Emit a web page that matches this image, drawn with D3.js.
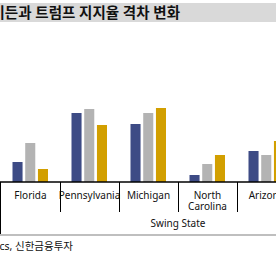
<!DOCTYPE html>
<html>
<head>
<meta charset="utf-8">
<script src="https://cdn.jsdelivr.net/npm/d3@7"></script>
<style>
  body { margin: 0; background: #fff; }
  svg { display: block; }
  text { font-family: "Noto Sans", "Noto Sans CJK KR", sans-serif; }
</style>
</head>
<body>
<svg id="chart"></svg>
<script>
const title = "바이든과 트럼프 지지율 격차 변화";
const source = "자료: RealClearPolitics, 신한금융투자";
const groupLabel = "Swing State";

const states = ["Florida", "Pennsylvania", "Michigan", "North Carolina", "Arizona"];
const seriesNames = ["series1", "series2", "series3"];
const series1 = [2.0, 6.9, 5.8, 0.7, 3.1];
const series2 = [3.9, 7.3, 6.9, 1.8, 2.7];
const series3 = [1.3, 5.7, 7.4, 2.7, 4.1];
const colors = ["#3d4b85", "#b3b3b3", "#d29f00"];

const width = 276, height = 260;
const baseY = 182;

const svg = d3.select("#chart")
  .attr("width", width)
  .attr("height", height);

// title bar
svg.append("rect")
  .attr("x", 0).attr("y", 3)
  .attr("width", width).attr("height", 19)
  .attr("fill", "#d9d9d9");

svg.append("text")
  .attr("x", 180).attr("y", 17.5)
  .attr("text-anchor", "end")
  .attr("font-family", "'Noto Sans CJK KR', sans-serif")
  .attr("font-size", 14.5)
  .attr("font-weight", "bold")
  .attr("fill", "#111")
  .text(title);

const x0 = d3.scaleBand()
  .domain(states)
  .range([1, 1 + 59 * states.length]);

const x1 = d3.scaleBand()
  .domain(seriesNames)
  .range([11.5, 47])
  .paddingInner(0.21);

const y = d3.scaleLinear()
  .domain([0, 10])
  .range([baseY, baseY - 100]);

const rows = states.map((s, i) => ({
  state: s,
  values: [series1[i], series2[i], series3[i]]
}));

const groups = svg.selectAll("g.state")
  .data(rows)
  .enter().append("g")
  .attr("class", "state")
  .attr("transform", d => `translate(${x0(d.state)},0)`);

groups.selectAll("rect")
  .data(d => d.values.map((v, i) => ({ key: seriesNames[i], value: v, color: colors[i] })))
  .enter().append("rect")
  .attr("x", d => x1(d.key))
  .attr("y", d => y(d.value))
  .attr("width", x1.bandwidth())
  .attr("height", d => baseY - y(d.value))
  .attr("fill", d => d.color);

// baseline
svg.append("line")
  .attr("x1", 0).attr("x2", width)
  .attr("y1", baseY).attr("y2", baseY)
  .attr("stroke", "#000").attr("stroke-width", 1.5);

// category separators
states.slice(1).forEach(s => {
  svg.append("line")
    .attr("x1", Math.round(x0(s)) + 0.5).attr("x2", Math.round(x0(s)) + 0.5)
    .attr("y1", baseY).attr("y2", 212)
    .attr("stroke", "#000").attr("stroke-width", 1);
});

// outer left border
svg.append("line")
  .attr("x1", 0.5).attr("x2", 0.5)
  .attr("y1", baseY).attr("y2", 235)
  .attr("stroke", "#000").attr("stroke-width", 1);

// category labels
groups.append("text")
  .attr("x", x0.bandwidth() / 2)
  .attr("y", 199)
  .attr("text-anchor", "middle")
  .attr("font-size", 10)
  .attr("fill", "#111")
  .each(function (d) {
    const words = d.state === "North Carolina" ? ["North", "Carolina"] : [d.state];
    d3.select(this).selectAll("tspan")
      .data(words)
      .enter().append("tspan")
      .attr("x", x0.bandwidth() / 2)
      .attr("dy", (w, i) => i === 0 ? 0 : 10.5)
      .text(w => w);
  });

svg.append("text")
  .attr("x", 178).attr("y", 227)
  .attr("text-anchor", "middle")
  .attr("font-size", 10)
  .attr("fill", "#111")
  .text(groupLabel);

// bottom rule
svg.append("line")
  .attr("x1", 0).attr("x2", width)
  .attr("y1", 235).attr("y2", 235)
  .attr("stroke", "#bfbfbf").attr("stroke-width", 2);

svg.append("text")
  .attr("x", 73).attr("y", 250)
  .attr("text-anchor", "end")
  .attr("font-family", "'Noto Sans CJK KR', sans-serif")
  .attr("font-size", 10.5)
  .attr("fill", "#111")
  .text(source);
</script>
</body>
</html>
